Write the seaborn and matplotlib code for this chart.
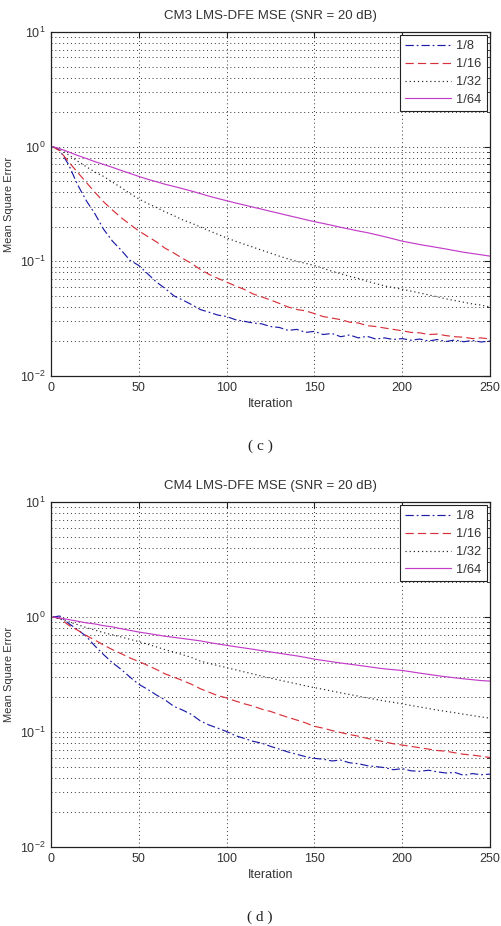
import matplotlib
matplotlib.use("Agg")
import matplotlib.pyplot as plt
import numpy as np
import pandas as pd
import seaborn as sns
from matplotlib.ticker import LogLocator, NullFormatter, FixedLocator

# ---------------- data ----------------
iterations = [1, 5, 10, 15, 20, 25, 30, 35, 40, 45, 50, 55, 60, 65, 70, 75, 80, 85, 90, 95,
              100, 105, 110, 115, 120, 125, 130, 135, 140, 145, 150, 155, 160, 165, 170, 175,
              180, 185, 190, 195, 200, 205, 210, 215, 220, 225, 230, 235, 240, 245, 250]
step_labels = ["1/8", "1/16", "1/32", "1/64"]

cm3_mu8 = [1.00, 0.93, 0.70, 0.47, 0.34, 0.26, 0.19, 0.15, 0.125, 0.102, 0.092, 0.078, 0.066,
           0.058, 0.050, 0.046, 0.042, 0.038, 0.036, 0.034, 0.033, 0.031, 0.030, 0.029, 0.0285,
           0.027, 0.0265, 0.025, 0.0255, 0.024, 0.0245, 0.023, 0.0235, 0.022, 0.0228, 0.0215,
           0.0222, 0.021, 0.0215, 0.0208, 0.0212, 0.0205, 0.021, 0.0202, 0.0208, 0.0200, 0.0206,
           0.0199, 0.0204, 0.0198, 0.0202]
cm3_mu16 = [1.00, 0.92, 0.74, 0.60, 0.49, 0.40, 0.33, 0.28, 0.24, 0.21, 0.184, 0.165, 0.148,
            0.130, 0.118, 0.106, 0.096, 0.085, 0.077, 0.071, 0.066, 0.061, 0.057, 0.052, 0.049,
            0.046, 0.043, 0.040, 0.038, 0.037, 0.035, 0.033, 0.032, 0.031, 0.0295, 0.029, 0.0275,
            0.027, 0.0262, 0.0255, 0.0248, 0.024, 0.0238, 0.023, 0.0232, 0.0225, 0.022, 0.0218,
            0.0212, 0.0215, 0.021]
cm3_mu32 = [1.00, 0.95, 0.85, 0.75, 0.67, 0.60, 0.55, 0.49, 0.44, 0.39, 0.35, 0.32, 0.295, 0.27,
            0.25, 0.23, 0.215, 0.20, 0.185, 0.172, 0.160, 0.150, 0.141, 0.133, 0.125, 0.118,
            0.111, 0.105, 0.100, 0.096, 0.092, 0.087, 0.082, 0.078, 0.074, 0.071, 0.067, 0.064,
            0.061, 0.059, 0.057, 0.055, 0.053, 0.051, 0.049, 0.047, 0.0455, 0.044, 0.0425,
            0.0415, 0.040]
cm3_mu64 = [1.00, 0.96, 0.90, 0.84, 0.79, 0.74, 0.70, 0.66, 0.62, 0.585, 0.55, 0.52, 0.495,
            0.47, 0.45, 0.43, 0.41, 0.39, 0.37, 0.353, 0.338, 0.323, 0.310, 0.297, 0.285, 0.273,
            0.262, 0.251, 0.241, 0.231, 0.222, 0.214, 0.206, 0.198, 0.191, 0.184, 0.178, 0.171,
            0.164, 0.157, 0.150, 0.145, 0.140, 0.136, 0.132, 0.128, 0.124, 0.120, 0.117, 0.114,
            0.111]

cm4_mu8 = [1.00, 1.02, 0.88, 0.78, 0.68, 0.56, 0.47, 0.40, 0.35, 0.30, 0.26, 0.235, 0.21, 0.19,
           0.167, 0.155, 0.142, 0.125, 0.115, 0.108, 0.101, 0.093, 0.088, 0.083, 0.080, 0.075,
           0.071, 0.067, 0.064, 0.061, 0.059, 0.058, 0.056, 0.057, 0.054, 0.053, 0.051, 0.050,
           0.049, 0.047, 0.048, 0.046, 0.0455, 0.0465, 0.045, 0.044, 0.0445, 0.042, 0.0435,
           0.0425, 0.043]
cm4_mu16 = [1.00, 0.97, 0.85, 0.77, 0.69, 0.63, 0.57, 0.52, 0.48, 0.44, 0.41, 0.38, 0.35, 0.32,
            0.30, 0.28, 0.26, 0.238, 0.222, 0.207, 0.198, 0.186, 0.176, 0.168, 0.158, 0.151,
            0.142, 0.134, 0.127, 0.120, 0.112, 0.108, 0.103, 0.099, 0.095, 0.092, 0.088, 0.085,
            0.082, 0.079, 0.077, 0.075, 0.073, 0.071, 0.069, 0.068, 0.066, 0.064, 0.063, 0.0615,
            0.060]
cm4_mu32 = [1.00, 0.96, 0.91, 0.86, 0.81, 0.77, 0.73, 0.70, 0.67, 0.64, 0.61, 0.58, 0.55, 0.52,
            0.495, 0.47, 0.445, 0.414, 0.395, 0.378, 0.363, 0.348, 0.333, 0.320, 0.306, 0.294,
            0.283, 0.272, 0.262, 0.252, 0.243, 0.235, 0.227, 0.219, 0.212, 0.205, 0.198, 0.192,
            0.186, 0.181, 0.176, 0.170, 0.165, 0.160, 0.155, 0.151, 0.147, 0.143, 0.139, 0.135,
            0.132]
cm4_mu64 = [1.00, 0.98, 0.95, 0.92, 0.89, 0.87, 0.84, 0.82, 0.79, 0.765, 0.74, 0.72, 0.70, 0.68,
            0.665, 0.65, 0.635, 0.62, 0.60, 0.583, 0.567, 0.552, 0.538, 0.524, 0.510, 0.497,
            0.484, 0.471, 0.459, 0.445, 0.430, 0.419, 0.408, 0.398, 0.389, 0.380, 0.371, 0.362,
            0.354, 0.348, 0.343, 0.334, 0.325, 0.317, 0.309, 0.302, 0.296, 0.290, 0.285, 0.280,
            0.277]

titles = ["CM3 LMS-DFE MSE (SNR = 20 dB)", "CM4 LMS-DFE MSE (SNR = 20 dB)"]
captions = ["( c )", "( d )"]
x_ticks = [0, 50, 100, 150, 200, 250]

panels = [[cm3_mu8, cm3_mu16, cm3_mu32, cm3_mu64],
          [cm4_mu8, cm4_mu16, cm4_mu32, cm4_mu64]]

# ---------------- style ----------------
sns.set_style("white")
plt.rcParams["font.family"] = ["Liberation Sans", "DejaVu Sans"]
plt.rcParams["mathtext.default"] = "regular"
plt.rcParams["axes.linewidth"] = 0.9

colors = ["#1c1ca8", "#d8303a", "#202020", "#c23cc8"]
styles = [(0, (7, 2.5, 1.5, 2.5)), (0, (7, 3.5)), (0, (1, 2.5)), "-"]

fig = plt.figure(figsize=(5.02, 9.26), dpi=100)
axes_pos = [[51 / 502, 1 - 376 / 926, 439 / 502, 344 / 926],
            [51 / 502, 1 - 847 / 926, 439 / 502, 345 / 926]]
caption_y = [1 - 446 / 926, 1 - 917 / 926]

for p in range(2):
    ax = fig.add_axes(axes_pos[p])
    for k in range(4):
        df = pd.DataFrame({"Iteration": iterations, "MSE": panels[p][k]})
        sns.lineplot(data=df, x="Iteration", y="MSE", ax=ax, color=colors[k],
                     linestyle=styles[k], linewidth=0.85, label=step_labels[k],
                     estimator=None)
    ax.set_yscale("log")
    ax.set_xlim(0, 250)
    ax.set_ylim(1e-2, 1e1)
    ax.xaxis.set_major_locator(FixedLocator(x_ticks))
    ax.yaxis.set_major_locator(LogLocator(base=10, numticks=10))
    ax.yaxis.set_minor_locator(LogLocator(base=10, subs=np.arange(2, 10), numticks=20))
    ax.yaxis.set_minor_formatter(NullFormatter())
    ax.grid(True, which="major", axis="x", color="#333333", linestyle=(0, (1, 3)), linewidth=0.7)
    ax.grid(True, which="both", axis="y", color="#333333", linestyle=(0, (1, 3)), linewidth=0.7)
    ax.tick_params(which="both", direction="in", top=True, right=True, colors="#222222",
                   labelsize=9, labelcolor="#333333")
    ax.tick_params(which="major", length=4, width=0.8, pad=4)
    ax.tick_params(which="minor", length=2, width=0.6)
    for s in ax.spines.values():
        s.set_color("#222222")
    ax.set_title(titles[p], fontsize=9.5, color="#333333", pad=9)
    ax.set_xlabel("Iteration", fontsize=9, color="#333333", labelpad=3)
    ax.set_ylabel("Mean Square Error", fontsize=8, color="#333333", labelpad=4)
    leg = ax.legend(loc="upper right", fontsize=9.3, frameon=True, fancybox=False,
                    framealpha=1, edgecolor="#222222", handlelength=3.6,
                    labelspacing=0.45, borderaxespad=0.25, handletextpad=0.4,
                    borderpad=0.4)
    leg.get_frame().set_linewidth(0.8)
    for t in leg.get_texts():
        t.set_color("#333333")
    fig.text(0.518, caption_y[p], captions[p], ha="center", va="center", fontsize=11,
             family=["Liberation Serif", "DejaVu Serif"], color="#222222")

fig.savefig("out.png", dpi=100)
